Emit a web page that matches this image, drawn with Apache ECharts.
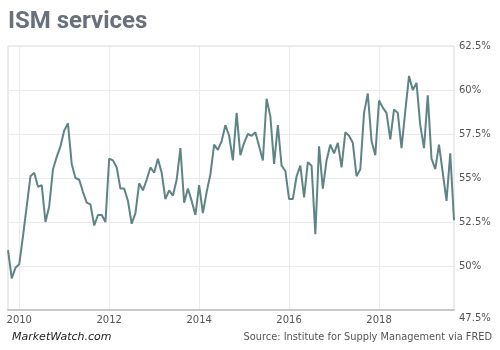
<!DOCTYPE html>
<html>
<head>
<meta charset="utf-8">
<script src="https://cdn.jsdelivr.net/npm/echarts@6/dist/echarts.min.js"></script>
<style>
  html, body { margin: 0; padding: 0; background: #fff; }
  #chart { width: 500px; height: 350px; }
</style>
</head>
<body>
<div id="chart"></div>
<script>
// ISM non-manufacturing index, monthly, Oct 2009 .. Sep 2019
var startYear = 2009
var startMonth = 10
var ismValues = [
  50.9, 49.3, 49.9,
  50.1, 51.7, 53.4, 55.1, 55.3, 54.5, 54.6, 52.5, 53.4, 55.5, 56.2, 56.8,
  57.7, 58.1, 55.8, 55.0, 54.9, 54.2, 53.6, 53.5, 52.3, 52.9, 52.9, 52.5,
  56.1, 56.0, 55.6, 54.4, 54.4, 53.7, 52.4, 53.0, 54.7, 54.3, 54.9, 55.6,
  55.3, 56.1, 55.3, 53.8, 54.3, 54.0, 54.9, 56.7, 53.6, 54.4, 53.7, 52.9,
  54.6, 53.0, 54.2, 55.2, 56.9, 56.6, 57.1, 58.0, 57.4, 56.0, 58.7, 56.3,
  57.0, 57.5, 57.4, 57.6, 56.8, 56.0, 59.5, 58.5, 55.8, 58.0, 55.7, 55.4,
  53.8, 53.8, 55.1, 55.7, 53.9, 55.9, 55.7, 51.8, 56.8, 54.4, 56.0, 56.9,
  56.4, 57.0, 55.6, 57.6, 57.4, 57.0, 55.1, 55.5, 58.7, 59.8, 57.1, 56.3,
  59.4, 59.0, 58.7, 57.2, 58.9, 58.7, 56.7, 58.8, 60.8, 60.0, 60.4, 58.0,
  56.7, 59.7, 56.1, 55.5, 56.9, 55.3, 53.7, 56.4, 52.6
]
var yearTicks = ['2010', '2012', '2014', '2016', '2018']

// month labels like 2009-10
var months = []
for (var i = 0; i < ismValues.length; i++) {
  var m = startMonth - 1 + i
  var y = startYear + Math.floor(m / 12)
  var mm = (m % 12) + 1
  months.push(y + '-' + (mm < 10 ? '0' + mm : mm))
}

function isYearTick(idx, val) {
  return val.slice(5) === '01' && yearTicks.indexOf(val.slice(0, 4)) >= 0
}

var chart = echarts.init(document.getElementById('chart'))
chart.setOption({
  animation: false,
  backgroundColor: '#fff',
  title: [
    {
      text: 'ISM services',
      left: 8,
      top: 10,
      padding: 0,
      textStyle: { fontFamily: 'Roboto', fontWeight: 'bold', fontSize: 24, color: '#68707a' }
    },
    {
      text: 'MarketWatch.com',
      left: 12,
      top: 332,
      padding: 0,
      textStyle: { fontFamily: 'DejaVu Sans', fontStyle: 'italic', fontWeight: 'normal', fontSize: 11, color: '#222' }
    },
    {
      text: 'Source: Institute for Supply Management via FRED',
      right: 8,
      top: 332,
      padding: 0,
      textStyle: { fontFamily: 'DejaVu Sans', fontWeight: 'normal', fontSize: 9.8, color: '#555' }
    }
  ],
  grid: {
    left: 8,
    right: 46,
    top: 46,
    bottom: 40,
    show: true,
    borderColor: '#d8d8d8',
    borderWidth: 1
  },
  xAxis: {
    type: 'category',
    data: months,
    boundaryGap: false,
    axisLine: { show: true, lineStyle: { color: '#c8c8c8', width: 2 } },
    axisTick: { show: false },
    axisLabel: {
      interval: isYearTick,
      formatter: function (v) { return v.slice(0, 4) },
      margin: 5,
      fontFamily: 'DejaVu Sans',
      fontSize: 10,
      color: '#555'
    },
    splitLine: { show: true, interval: isYearTick, lineStyle: { color: '#ebebeb', width: 1 } }
  },
  yAxis: {
    type: 'value',
    position: 'right',
    min: 47.5,
    max: 62.5,
    interval: 2.5,
    axisLine: { show: false },
    axisTick: { show: false },
    axisLabel: {
      margin: 5,
      fontFamily: 'DejaVu Sans',
      fontSize: 10,
      color: '#555',
      formatter: function (v) {
        return v === 47.5 ? '{low|47.5%}' : v + '%'
      },
      rich: {
        low: { padding: [17, 0, 0, 0], fontFamily: 'DejaVu Sans', fontSize: 10, color: '#555' }
      }
    },
    splitLine: { lineStyle: { color: '#ebebeb', width: 1 } }
  },
  series: [
    {
      name: 'ISM services',
      type: 'line',
      data: ismValues,
      symbol: 'none',
      smooth: false,
      lineStyle: { color: '#5e8483', width: 2 }
    }
  ]
})
</script>
</body>
</html>
